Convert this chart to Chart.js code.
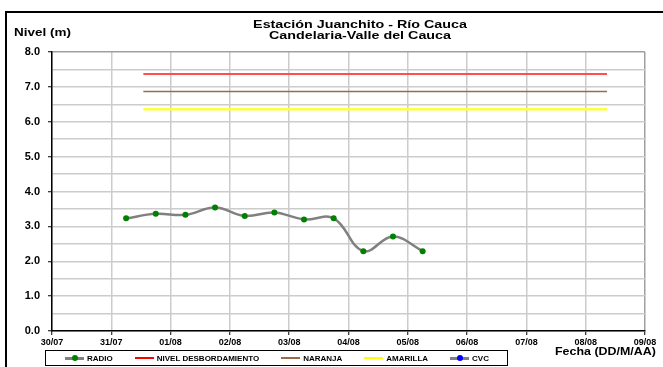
<!DOCTYPE html>
<html>
<head>
<meta charset="utf-8">
<script src="https://cdn.jsdelivr.net/npm/chart.js@4"></script>
<style>
html,body{margin:0;padding:0;background:#fff;width:663px;height:367px;overflow:hidden;font-family:"Liberation Sans",Arial,sans-serif;}
#wrap{position:relative;width:663px;height:367px;overflow:hidden;}
#frame{position:absolute;left:5px;top:11px;width:720px;height:420px;border:2px solid #000;box-sizing:border-box;}
#c{position:absolute;left:0;top:0;}
.t{position:absolute;font-weight:bold;color:#000;white-space:nowrap;}
#title{left:210px;top:19px;width:300px;text-align:center;font-size:11px;line-height:11px;transform:scaleX(1.3);transform-origin:150px 0;}
#ytitle{left:14px;top:27px;font-size:10px;line-height:12px;transform:scaleX(1.35);transform-origin:0 0;}
#xtitle{left:555px;top:345px;font-size:11px;line-height:13px;transform:scaleX(1.13);transform-origin:0 0;}
#legend{position:absolute;left:45px;top:350px;width:463px;height:16px;border:1px solid #000;box-sizing:border-box;display:flex;align-items:center;padding-left:19px;font-size:8px;font-weight:bold;white-space:nowrap;}
.item{display:flex;align-items:center;margin-right:22px;}
.sym{position:relative;width:19px;margin-right:3px;}
.dot{position:absolute;left:7px;width:6px;height:6px;border-radius:50%;}
</style>
</head>
<body>
<div id="wrap">
  <div id="frame"></div>
  <canvas id="c" width="663" height="367"></canvas>
  <div class="t" id="title">Estación Juanchito - Río Cauca<br>Candelaria-Valle del Cauca</div>
  <div class="t" id="ytitle">Nivel (m)</div>
  <div class="t" id="xtitle">Fecha (DD/M/AA)</div>
  <div id="legend"></div>
</div>
<script>
// ---- data ----
const dateLabels = ['30/07','31/07','01/08','02/08','03/08','04/08','05/08','06/08','07/08','08/08','09/08'];
const seriesNames = ['RADIO','NIVEL DESBORDAMIENTO','NARANJA','AMARILLA','CVC'];
// days since 30/07 00:00
const radioDays   = [1.25, 1.75, 2.25, 2.75, 3.25, 3.75, 4.25, 4.75, 5.25, 5.75, 6.25];
const radioLevels = [3.23, 3.36, 3.33, 3.54, 3.30, 3.40, 3.20, 3.23, 2.29, 2.71, 2.29];
const thresholdDays = [1.54, 9.36];
const nivelDesbordamiento = [7.37, 7.37];
const nivelNaranja = [6.87, 6.87];
const nivelAmarilla = [6.36, 6.36];
const cvcDays = [];
const cvcLevels = [];

const toPoints = (xs, ys) => xs.map((x, i) => ({x: x, y: ys[i]}));
const FONT = '"Liberation Sans", Arial, sans-serif';

const datasets = [
  {label: seriesNames[0], data: toPoints(radioDays, radioLevels), borderColor: '#808080', borderWidth: 2.5,
   tension: 0.4, pointRadius: 3, pointBackgroundColor: '#008000', pointBorderColor: '#008000', pointBorderWidth: 0, order: 0},
  {label: seriesNames[1], data: toPoints(thresholdDays, nivelDesbordamiento), borderColor: '#ff5050', borderWidth: 2, pointRadius: 0},
  {label: seriesNames[2], data: toPoints(thresholdDays, nivelNaranja), borderColor: '#9c6a48', borderWidth: 1.5, pointRadius: 0},
  {label: seriesNames[3], data: toPoints(thresholdDays, nivelAmarilla), borderColor: '#ffff40', borderWidth: 2.5, pointRadius: 0},
  {label: seriesNames[4], data: toPoints(cvcDays, cvcLevels), borderColor: '#808080', borderWidth: 2.5,
   pointRadius: 3, pointBackgroundColor: '#0000ff', pointBorderColor: '#0000ff'}
];

const chart = new Chart(document.getElementById('c'), {
  type: 'scatter',
  data: {datasets: datasets.map(d => Object.assign({showLine: true}, d))},
  options: {
    responsive: false,
    animation: false,
    layout: {padding: {left: 0, top: 52, right: 18, bottom: 0}},
    plugins: {legend: {display: false}, title: {display: false}, tooltip: {enabled: false}},
    scales: {
      x: {
        type: 'linear', min: 0, max: dateLabels.length - 1,
        ticks: {stepSize: 1, autoSkip: false, maxRotation: 0, padding: 2, color: '#000',
                font: {family: FONT, size: 9, weight: 'bold'},
                callback: (v) => dateLabels[v] !== undefined ? dateLabels[v] : ''},
        grid: {color: (ctx) => (ctx.tick && ctx.tick.value === dateLabels.length - 1) ? '#a0a0a0' : '#cccccc',
               lineWidth: 1.5, tickLength: 4, tickColor: '#000', tickWidth: 1},
        border: {color: '#000', width: 1.5},
        afterFit: (s) => { s.height = 36; }
      },
      y: {
        min: 0, max: 8,
        ticks: {stepSize: 0.5, padding: 8, color: '#000', font: {family: FONT, size: 11, weight: 'bold'},
                callback: (v) => Number.isInteger(v) ? v.toFixed(1) : ''},
        grid: {color: (ctx) => (ctx.tick && ctx.tick.value === 8) ? '#a0a0a0' : '#cccccc',
               lineWidth: 1.5, tickLength: 4, tickWidth: 1,
               tickColor: (ctx) => (ctx.tick && Number.isInteger(ctx.tick.value)) ? '#000' : 'rgba(0,0,0,0)'},
        border: {color: '#000', width: 1.5},
        afterFit: (s) => { s.width = 52; }
      }
    }
  }
});

// HTML legend built from the datasets
const legend = document.getElementById('legend');
chart.data.datasets.forEach((ds) => {
  const item = document.createElement('div');
  item.className = 'item';
  const sym = document.createElement('span');
  sym.className = 'sym';
  const hasDot = ds.pointRadius > 0;
  sym.style.height = hasDot ? '3px' : '1.5px';
  sym.style.background = ds.borderColor === '#ff5050' ? '#ff0000' : (ds.borderColor === '#ffff40' ? '#ffff00' : ds.borderColor);
  if (hasDot) {
    const dot = document.createElement('span');
    dot.className = 'dot';
    dot.style.top = '-1.5px';
    dot.style.background = ds.pointBackgroundColor;
    sym.appendChild(dot);
  }
  const txt = document.createElement('span');
  txt.textContent = ds.label;
  item.appendChild(sym);
  item.appendChild(txt);
  legend.appendChild(item);
});
</script>
</body>
</html>
